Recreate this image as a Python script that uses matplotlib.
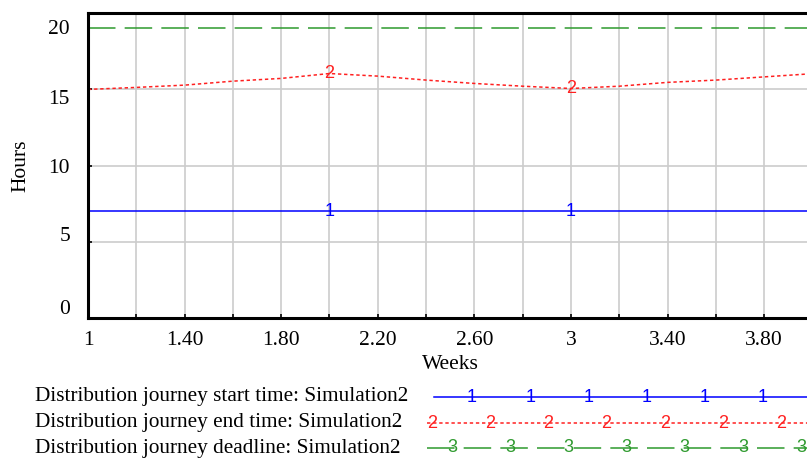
import matplotlib
matplotlib.use('Agg')
import matplotlib.pyplot as plt
import matplotlib.transforms as mtransforms
import numpy as np

# weeks and simulated values (hours)
weeks = [1.0, 1.2, 1.4, 1.6, 1.8, 2.0, 2.2, 2.4, 2.6, 2.8, 3.0, 3.2, 3.4, 3.6, 3.8, 4.0]
start_time = [7, 7, 7, 7, 7, 7, 7, 7, 7, 7, 7, 7, 7, 7, 7, 7]
end_time = [14.99, 15.12, 15.27, 15.53, 15.71, 16.03, 15.86, 15.60, 15.38, 15.20,
            15.05, 15.20, 15.45, 15.60, 15.81, 16.02]
deadline = [19.02] * 16

names = ['Distribution journey start time: Simulation2',
         'Distribution journey end time: Simulation2',
         'Distribution journey deadline: Simulation2']
colors = ['#0000ff', '#ff2020', '#2e9a2e']
marks = ['1', '2', '3']
mark_weeks = [2.0, 3.0]

plt.rcParams['font.family'] = 'Liberation Serif'

W, H = 807, 462
fig = plt.figure(figsize=(W / 100, H / 100), dpi=100)

# main axes (right edge runs past the picture, like the screenshot)
ax = fig.add_axes([88 / W, (H - 318.3) / H, 724.5 / W, (318.3 - 12.9) / H])
ax.set_xlim(1, 4)
ax.set_ylim(0, 20)

ax.plot(weeks, start_time, color=colors[0], lw=1.1)
ax.plot(weeks, end_time, color=colors[1], lw=1.1, dashes=(2.2, 1.8))
ax.plot(weeks, deadline, color=colors[2], lw=1.1, dashes=(18, 6))

for wk in mark_weeks:
    i = weeks.index(wk)
    ax.text(wk, start_time[i], '1', color=colors[0], ha='center', va='center',
            fontsize=13, family='Liberation Sans')
    ax.text(wk, end_time[i], '2', color=colors[1], ha='center', va='center',
            fontsize=13, family='Liberation Sans')

ax.set_xticks(np.arange(1, 4.01, 0.2))
ax.set_xticklabels(['1' if abs(v - 1) < 1e-9 else ('3' if abs(v - 3) < 1e-9 else
                    ('%.2f' % v if round((v - 1) / 0.2) % 2 == 0 else ''))
                    for v in np.arange(1, 4.01, 0.2)])
ax.set_yticks([0, 5, 10, 15, 20])
ax.grid(True, color='#cccccc', lw=1.2)
ax.tick_params(direction='in', length=3, width=1.2, labelsize=15.5, colors='black')
ax.tick_params(axis='x', pad=9)
ax.tick_params(axis='y', pad=13)

# vensim spreads the y labels evenly, not on the grid lines
shifts = [11.6, 7.7, 0, -7.4, -14]
for lab, dy in zip(ax.get_yticklabels(), shifts):
    lab.set_transform(lab.get_transform() + mtransforms.ScaledTranslation(0, dy / 100, fig.dpi_scale_trans))

for s in ['left', 'bottom', 'top', 'right']:
    ax.spines[s].set_linewidth(2.2)
    ax.spines[s].set_color('black')

ax.set_xlabel('Weeks', fontsize=15.5, labelpad=4)
ax.set_ylabel('Hours', fontsize=15.5)
ax.yaxis.set_label_coords(-0.079, 0.5)

# legend block in pixel coordinates
lg = fig.add_axes([0, 0, 1, 1])
lg.set_xlim(0, W)
lg.set_ylim(H, 0)
lg.axis('off')
rows = [397, 423, 448]
starts = [434, 427, 427]
first_mark = [472, 432, 452]
styles = [dict(lw=1.1), dict(lw=1.1, dashes=(2.2, 1.8)), dict(lw=1.1, dashes=(18, 6))]
for name, c, m, y, x0, fm, st in zip(names, colors, marks, rows, starts, first_mark, styles):
    lg.text(35, y, name, fontsize=15.3, va='center', ha='left')
    lg.plot([x0, W + 5], [y, y], color=c, **st)
    for xm in np.arange(fm, W + 10, 58.2):
        lg.text(xm, y, m, color=c, ha='center', va='center', fontsize=13, family='Liberation Sans')

fig.savefig('out.png', dpi=100)
